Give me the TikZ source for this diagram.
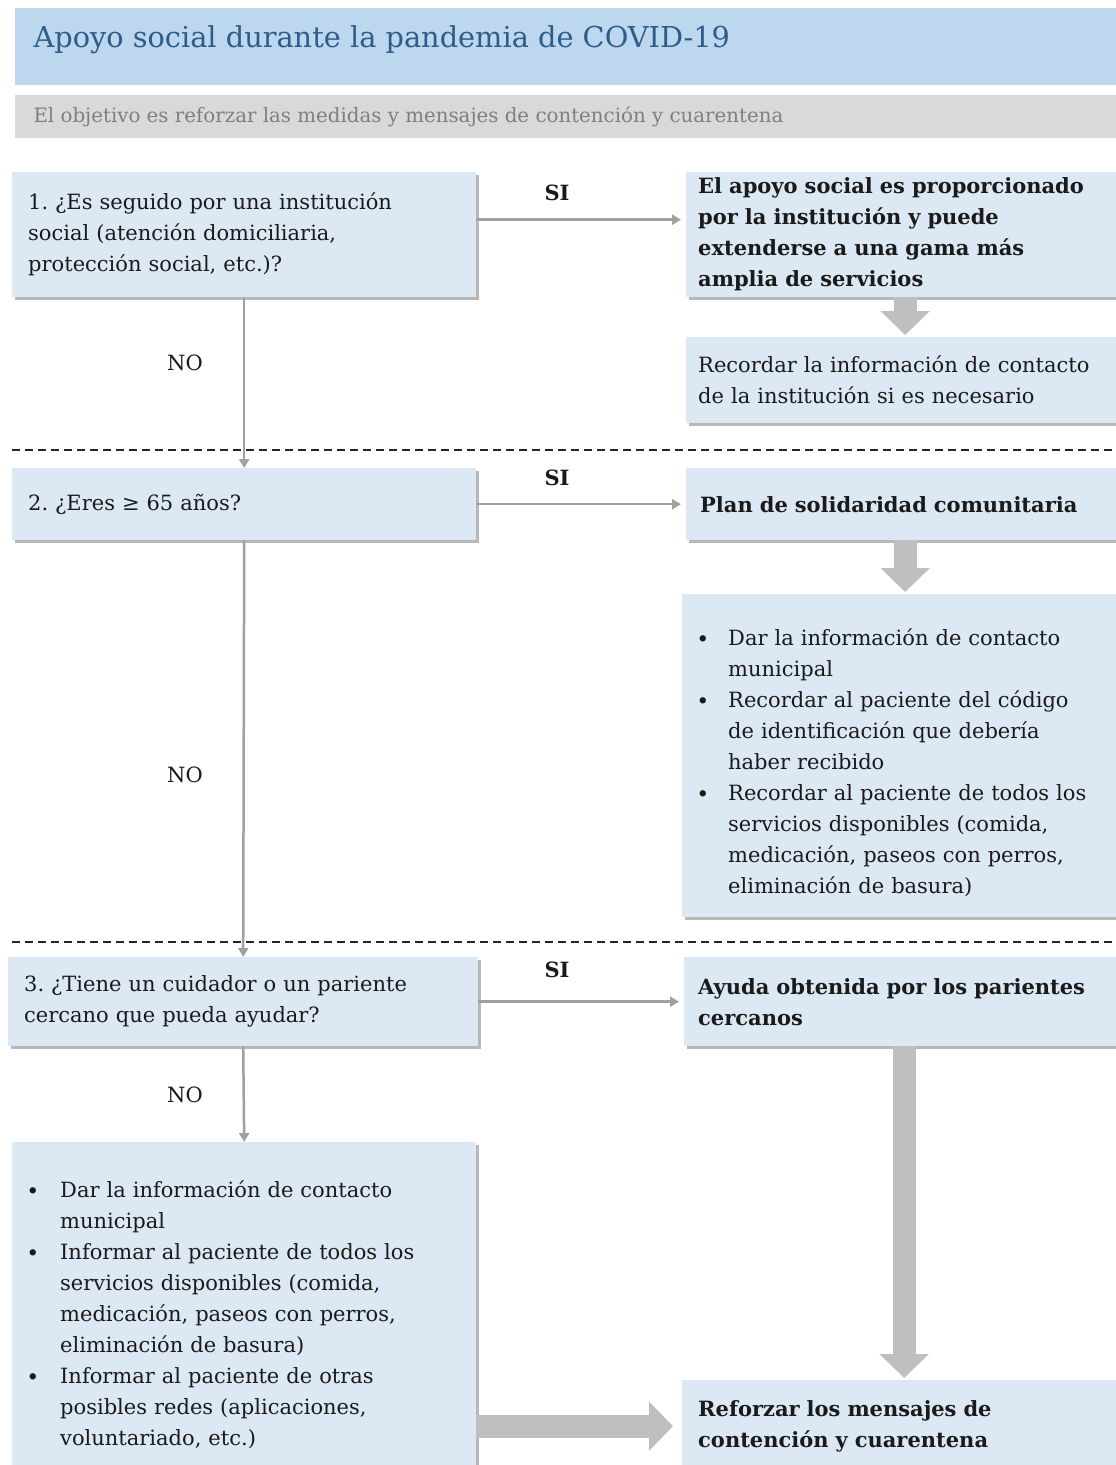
\documentclass[tikz,border=0pt]{standalone}
\usepackage{fontspec}
\setmainfont{DejaVu Serif}
\frenchspacing
\usetikzlibrary{arrows.meta,shadows}
\definecolor{bandblue}{HTML}{BDD7EE}
\definecolor{titleblue}{HTML}{2F5D8A}
\definecolor{bandgray}{HTML}{D9D9D9}
\definecolor{subgray}{HTML}{7F7F7F}
\definecolor{boxfill}{HTML}{DDE8F5}
\definecolor{thinarrow}{HTML}{A0A0A0}
\definecolor{thickarrow}{HTML}{BFBFBF}
\definecolor{txt}{HTML}{1A1A1A}
\newcommand\bitem[2]{\par\hangindent=#1\hangafter=1\noindent\makebox[#1][l]{\fontsize{18}{31}\selectfont\bfseries\hspace{-3pt}•}#2\par}
\begin{document}
\begin{tikzpicture}[x=1pt,y=-1pt,
  box/.style={fill=boxfill, anchor=north west, inner ysep=0pt, align=left,
    text=txt, font=\fontsize{21}{31}\selectfont,
    drop shadow={shadow xshift=3pt,shadow yshift=-3pt,fill=black,opacity=0.28}},
  lbl/.style={text=txt, font=\fontsize{21}{31}\selectfont},
  thin/.style={draw=thinarrow, line width=2.5pt, -{Triangle[width=10pt,length=9pt]}},
  thick/.style={draw=thickarrow, line width=23pt, -{Triangle[width=48pt,length=24pt]}},
  divider/.style={draw=black!85, line width=1.5pt, dash pattern=on 8pt off 5pt}
]
\useasboundingbox (0,0) rectangle (1116,1465);
\clip (0,0) rectangle (1116,1465);

% header bands
\fill[bandblue] (15,8) rectangle (1130,85);
\node[anchor=west, text=titleblue, font=\fontsize{28.8}{36}\selectfont] (title) at (30,40) {Apoyo social durante la pandemia de COVID-19};
\fill[bandgray] (15,95) rectangle (1130,138);
\node[anchor=west, text=subgray, font=\fontsize{19.8}{22}\selectfont] (subtitle) at (30,117) {El objetivo es reforzar las medidas y mensajes de contención y cuarentena};

% row 1
\node[box, inner xsep=16pt, text width=432pt, minimum height=125pt] (b1) at (12,172)
  {1. ¿Es seguido por una institución\\social (atención domiciliaria,\\protección social, etc.)?};
\node[box, inner xsep=12pt, text width=414pt, minimum height=125pt, font=\fontsize{21}{31}\selectfont\bfseries] (r1) at (686,172)
  {El apoyo social es proporcionado\\por la institución y puede\\extenderse a una gama más\\amplia de servicios};
\node[box, inner xsep=12pt, text width=414pt, minimum height=86pt] (r1b) at (686,337)
  {Recordar la información de contacto\\de la institución si es necesario};

% row 2
\node[box, inner xsep=16pt, text width=432pt, minimum height=72pt] (b2) at (12,468)
  {2. ¿Eres ≥ 65 años?};
\node[box, inner xsep=14pt, text width=410pt, minimum height=72pt, font=\fontsize{21}{31}\selectfont\bfseries] (r2) at (686,468)
  {Plan de solidaridad comunitaria};
\node[box, inner xsep=18pt, text width=406pt, minimum height=323pt] (r2b) at (682,594)
  {\bitem{28pt}{Dar la información de contacto\newline municipal}%
   \bitem{28pt}{Recordar al paciente del código\newline de identificación que debería\newline haber recibido}%
   \bitem{28pt}{Recordar al paciente de todos los\newline servicios disponibles (comida,\newline medicación, paseos con perros,\newline eliminación de basura)}};

% row 3
\node[box, inner xsep=16pt, text width=438pt, minimum height=89pt] (b3) at (8,957)
  {3. ¿Tiene un cuidador o un pariente\\cercano que pueda ayudar?};
\node[box, inner xsep=14pt, text width=412pt, minimum height=89pt, font=\fontsize{21}{31}\selectfont\bfseries] (r3) at (684,957)
  {Ayuda obtenida por los parientes\\cercanos};
\node[box, inner xsep=18pt, text width=428pt, minimum height=330pt] (l4) at (12,1142)
  {\bitem{30pt}{Dar la información de contacto\newline municipal}%
   \bitem{30pt}{Informar al paciente de todos los\newline servicios disponibles (comida,\newline medicación, paseos con perros,\newline eliminación de basura)}%
   \bitem{30pt}{Informar al paciente de otras\newline posibles redes (aplicaciones,\newline voluntariado, etc.)}};
\node[box, inner xsep=16pt, text width=410pt, minimum height=92pt, font=\fontsize{21}{31}\selectfont\bfseries] (r4) at (682,1380)
  {Reforzar los mensajes de\\contención y cuarentena};

% dividers
\coordinate (d1a) at (12,450); \coordinate (d1b) at (1116,450);
\coordinate (d2a) at (12,942); \coordinate (d2b) at (1116,942);
\draw[divider] (d1a) -- (d1b);
\draw[divider] (d2a) -- (d2b);

% thin arrows
\draw[thin] (b1.south) -- (b2.north);
\draw[thin] (b2.south) -- (b3.north);
\draw[thin] (b3.south) -- (l4.north);
\draw[thin, shorten >=5pt] ([yshift=15pt]b1.east) -- ([yshift=15pt]b1.east -| r1.west);
\draw[thin, shorten >=5pt] (b2.east) -- (b2.east -| r2.west);
\draw[thin, shorten >=5pt] (b3.east) -- (b3.east -| r3.west);

% labels
\node[lbl, font=\fontsize{21}{31}\selectfont\bfseries] (si1) at (557,193) {SI};
\node[lbl, font=\fontsize{21}{31}\selectfont\bfseries] (si2) at (557,478) {SI};
\node[lbl, font=\fontsize{21}{31}\selectfont\bfseries] (si3) at (557,970) {SI};
\node[lbl] (no1) at (185,363) {NO};
\node[lbl] (no2) at (185,775) {NO};
\node[lbl] (no3) at (185,1095) {NO};

% thick arrows
\draw[thick, shorten >=2pt] (r1.south) -- (r1.south |- r1b.north);
\draw[thick, shorten >=2pt] (r2.south) -- (r2.south |- r2b.north);
\draw[thick, shorten >=2pt] (r3.south) -- (r3.south |- r4.north);
\draw[thick, shorten >=9pt] (l4.east |- r4.west) -- (r4.west);
\end{tikzpicture}
\end{document}
